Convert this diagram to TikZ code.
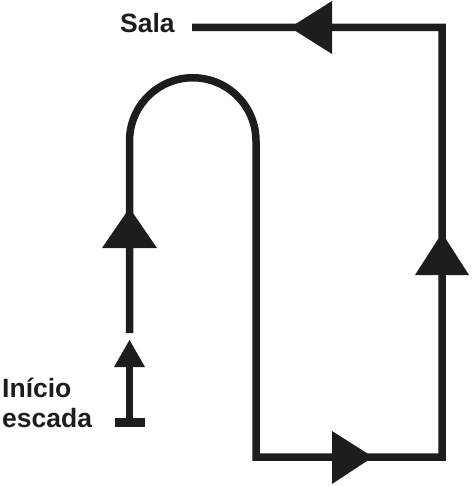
\documentclass[tikz,border=0pt]{standalone}
\usepackage{fontspec}
\setmainfont{Liberation Sans}
\definecolor{ink}{RGB}{29,29,27}
\begin{document}
\begin{tikzpicture}[x=1pt,y=-1pt,
  route/.style={draw=ink,line width=7.5pt,line join=miter,line cap=butt},
  head/.style={fill=ink,draw=none},
  lbl/.style={font=\bfseries\fontsize{26.5}{30}\selectfont,text=ink,inner sep=0pt,anchor=base west}]
\useasboundingbox (0,0) rectangle (471,486);
% labels
\node[lbl] (sala) at (120,33) {Sala};
\node[lbl] (inicio) at (2,397) {Início};
\node[lbl] (escada) at (2,427) {escada};
% key points
\coordinate (stemB) at (129.5,422);
\coordinate (stemT) at (129.5,366);
\coordinate (upB) at (129.5,333);
\coordinate (arcL) at (129.5,141);
\coordinate (bl) at (256,457);
\coordinate (br) at (442,457);
\coordinate (tr) at (442,27.5);
\coordinate (tl) at (192,27.5);
% start bar
\fill[ink] (115,418) rectangle (145,426.5);
% first short arrow
\draw[route] (stemB) -- (stemT);
\fill[head] (114,367) -- (145,367) -- (129.5,340) -- cycle;
% main route
\draw[route] (upB) -- (arcL) arc[start angle=180,end angle=360,radius=63.25] -- (bl) -- (br) -- (tr) -- (tl);
% arrowheads along the route
\fill[head] (102,248) -- (157,248) -- (129.5,208) -- cycle;
\fill[head] (332,431) -- (332,484) -- (373,457) -- cycle;
\fill[head] (415,275) -- (469,275) -- (442,233) -- cycle;
\fill[head] (332,1) -- (332,54) -- (290,27.5) -- cycle;
\end{tikzpicture}
\end{document}
